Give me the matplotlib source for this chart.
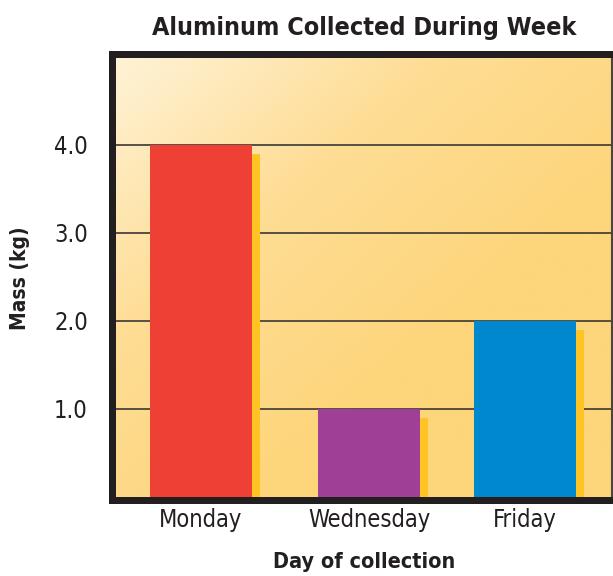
import numpy as np
import matplotlib.pyplot as plt
from matplotlib.colors import LinearSegmentedColormap

days = ['Monday', 'Wednesday', 'Friday']
mass = [4.0, 1.0, 2.0]
bar_colors = ['#EE4035', '#A03F96', '#0088CF']
yticks = [1.0, 2.0, 3.0, 4.0]
ytick_labels = ['1.0', '2.0', '3.0', '4.0']

plt.rcParams['font.family'] = ['DejaVu Sans']
plt.rcParams['font.stretch'] = 'condensed'

W, H = 613, 576
fig = plt.figure(figsize=(W / 100, H / 100), dpi=100)

# axes box placed on the centre line of the thick frame (pixels)
left, right, top, bottom = 111.5, 612, 54, 500
ax = fig.add_axes([left / W, 1 - bottom / H, (right - left) / W, (bottom - top) / H])

unit = 168.0          # px per category step
x0 = 201.0            # px of first bar centre
pos = np.array([0, 1, 1.93])
ax.set_xlim((left - x0) / unit, (right - x0) / unit)
ppk = 88.0            # px per kg
ax.set_ylim(-(bottom - 497) / ppk, (497 - top) / ppk)

# diagonal gradient background
nx, ny = 200, 200
u = np.linspace(0, 1, nx)[None, :]
v = np.linspace(0, 1, ny)[:, None]   # 0 at top
t = np.clip((u + v) / 1.3, 0, 1)
cmap = LinearSegmentedColormap.from_list('bg', ['#FFF3D8', '#FEDD95', '#FDD57A'])
ax.imshow(t, cmap=cmap, extent=[0, 1, 0, 1], transform=ax.transAxes,
          aspect='auto', zorder=0, interpolation='bilinear')

for y in yticks:
    ax.axhline(y, color='#3b3833', lw=1.2, zorder=1)

bw = 102 / unit
sw = 8 / unit
ax.bar(pos + bw / 2, np.array(mass) - 0.1, width=sw, align='edge',
       color='#FFC423', zorder=2)
ax.bar(pos, mass, width=bw, color=bar_colors, zorder=3)

for s in ['left', 'bottom', 'top']:
    ax.spines[s].set_linewidth(7 * 0.72)
    ax.spines[s].set_color('#231f20')
ax.spines['right'].set_linewidth(1.5)
ax.spines['right'].set_color('#4a4540')

ax.set_yticks(yticks)
ax.set_yticklabels(ytick_labels)
ax.set_xticks(pos)
ax.set_xticklabels(days)
ax.tick_params(length=0, labelsize=17, colors='#231f20')
ax.tick_params(axis='y', pad=17)
ax.tick_params(axis='x', pad=6)

fig.text(364 / W, 1 - 28 / H, 'Aluminum Collected During Week', ha='center',
         va='center', fontsize=18, fontweight='bold', color='#231f20')
fig.text(364 / W, 1 - 562 / H, 'Day of collection', ha='center',
         va='center', fontsize=15.5, fontweight='bold', color='#231f20')
fig.text(20 / W, 1 - 278 / H, 'Mass (kg)', ha='center', va='center',
         rotation=90, fontsize=15, fontweight='bold', color='#231f20')

fig.savefig('out.png', dpi=100)
